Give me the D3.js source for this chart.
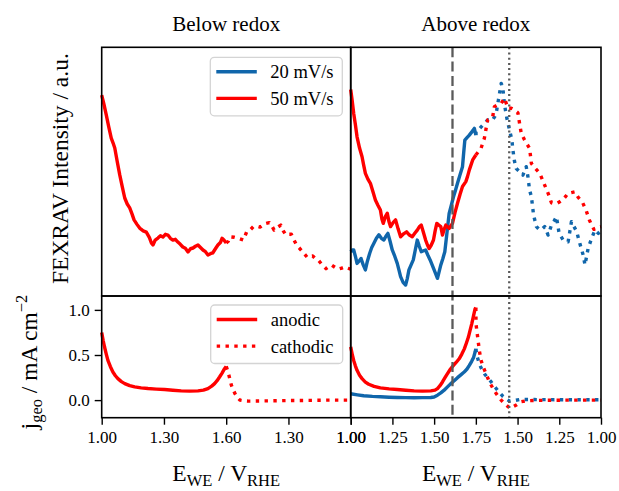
<!DOCTYPE html>
<html>
<head>
<meta charset="utf-8">
<script src="https://cdn.jsdelivr.net/npm/d3@7"></script>
<style>
  body { margin: 0; background: #fff; }
  svg text { font-family: "Liberation Serif", "Times New Roman", serif; fill: #000; }
</style>
</head>
<body>
<div id="chart"></div>
<script>
// ---- data (potential E in V vs RHE, value) ----
const panelTitles = ["Below redox", "Above redox"];
const sweepLabels = ["20 mV/s", "50 mV/s"];
const directionLabels = ["anodic", "cathodic"];
const turnPotentials = [1.60, 1.75];
const redoxAnodicE = 1.61;   // dashed marker, forward sweep
const redoxCathodicE = 1.55; // dotted marker, backward sweep
const currentTicks = [0.0, 0.5, 1.0];

// FEXRAV intensity (a.u.), below redox, 50 mV/s
const belowFex50Anodic = [[1.000,0.808],[1.011,0.770],[1.022,0.728],[1.034,0.680],[1.046,0.635],[1.055,0.615],[1.063,0.595],[1.075,0.540],[1.087,0.487],[1.099,0.440],[1.111,0.394],[1.123,0.370],[1.135,0.354],[1.146,0.330],[1.156,0.306],[1.170,0.288],[1.183,0.273],[1.200,0.262],[1.215,0.257],[1.230,0.235],[1.240,0.212],[1.247,0.205],[1.258,0.225],[1.271,0.233],[1.283,0.242],[1.295,0.237],[1.307,0.248],[1.319,0.245],[1.331,0.232],[1.343,0.225],[1.355,0.228],[1.367,0.217],[1.379,0.208],[1.391,0.197],[1.403,0.192],[1.416,0.177],[1.428,0.190],[1.440,0.193],[1.452,0.200],[1.464,0.205],[1.476,0.195],[1.488,0.185],[1.500,0.178],[1.512,0.165],[1.524,0.170],[1.535,0.173],[1.548,0.190],[1.560,0.205],[1.572,0.215],[1.580,0.232],[1.589,0.225],[1.600,0.213]];
const belowFex50Cathodic = [[1.600,0.213],[1.590,0.220],[1.581,0.238],[1.560,0.236],[1.541,0.232],[1.517,0.225],[1.501,0.259],[1.485,0.265],[1.469,0.279],[1.450,0.280],[1.437,0.277],[1.415,0.290],[1.392,0.295],[1.380,0.282],[1.369,0.265],[1.355,0.275],[1.337,0.285],[1.325,0.262],[1.312,0.245],[1.300,0.248],[1.286,0.248],[1.275,0.228],[1.263,0.209],[1.250,0.195],[1.236,0.182],[1.222,0.168],[1.209,0.155],[1.195,0.160],[1.183,0.161],[1.170,0.150],[1.154,0.142],[1.137,0.125],[1.119,0.110],[1.105,0.118],[1.091,0.124],[1.075,0.115],[1.060,0.108],[1.043,0.112],[1.027,0.117],[1.015,0.112],[1.000,0.108]];

// FEXRAV intensity (a.u.), above redox
const aboveFex20Anodic = [[1.000,0.178],[1.010,0.185],[1.018,0.185],[1.028,0.160],[1.038,0.131],[1.050,0.140],[1.062,0.151],[1.075,0.125],[1.088,0.105],[1.100,0.140],[1.114,0.172],[1.126,0.195],[1.139,0.212],[1.154,0.232],[1.169,0.246],[1.184,0.232],[1.199,0.225],[1.211,0.240],[1.223,0.252],[1.236,0.220],[1.249,0.185],[1.264,0.160],[1.279,0.131],[1.289,0.105],[1.299,0.078],[1.314,0.055],[1.329,0.044],[1.339,0.070],[1.349,0.105],[1.362,0.125],[1.375,0.145],[1.387,0.185],[1.399,0.225],[1.411,0.200],[1.423,0.178],[1.436,0.182],[1.449,0.185],[1.462,0.165],[1.476,0.145],[1.488,0.125],[1.500,0.105],[1.510,0.088],[1.520,0.071],[1.530,0.098],[1.540,0.125],[1.552,0.150],[1.564,0.178],[1.577,0.255],[1.590,0.332],[1.603,0.365],[1.616,0.399],[1.628,0.425],[1.640,0.453],[1.655,0.487],[1.670,0.520],[1.677,0.575],[1.684,0.627],[1.697,0.637],[1.711,0.647],[1.726,0.660],[1.741,0.674],[1.750,0.647]];
const aboveFex20Cathodic = [[1.750,0.647],[1.749,0.661],[1.729,0.672],[1.709,0.687],[1.694,0.698],[1.679,0.708],[1.664,0.705],[1.649,0.708],[1.638,0.720],[1.628,0.735],[1.618,0.775],[1.608,0.815],[1.598,0.855],[1.589,0.841],[1.578,0.768],[1.564,0.714],[1.548,0.667],[1.534,0.627],[1.528,0.587],[1.518,0.540],[1.508,0.513],[1.488,0.500],[1.468,0.486],[1.448,0.520],[1.438,0.480],[1.428,0.426],[1.417,0.399],[1.404,0.325],[1.387,0.279],[1.367,0.265],[1.352,0.270],[1.337,0.279],[1.317,0.245],[1.297,0.285],[1.282,0.300],[1.267,0.319],[1.251,0.252],[1.227,0.225],[1.197,0.218],[1.177,0.299],[1.146,0.259],[1.127,0.212],[1.107,0.165],[1.096,0.125],[1.077,0.192],[1.056,0.232],[1.036,0.265],[1.016,0.252],[1.000,0.265]];
const aboveFex50Anodic = [[1.000,0.830],[1.008,0.790],[1.018,0.734],[1.028,0.690],[1.038,0.640],[1.053,0.595],[1.068,0.560],[1.078,0.525],[1.088,0.493],[1.103,0.470],[1.118,0.453],[1.133,0.420],[1.148,0.386],[1.163,0.365],[1.178,0.346],[1.187,0.310],[1.195,0.292],[1.207,0.318],[1.219,0.333],[1.229,0.300],[1.239,0.279],[1.254,0.295],[1.269,0.306],[1.284,0.270],[1.299,0.238],[1.317,0.250],[1.335,0.258],[1.352,0.245],[1.369,0.238],[1.384,0.252],[1.399,0.265],[1.411,0.278],[1.423,0.285],[1.436,0.255],[1.449,0.225],[1.460,0.205],[1.470,0.191],[1.483,0.205],[1.496,0.225],[1.506,0.262],[1.516,0.292],[1.528,0.285],[1.540,0.279],[1.550,0.245],[1.560,0.268],[1.570,0.285],[1.580,0.278],[1.590,0.272],[1.600,0.282],[1.610,0.292],[1.625,0.335],[1.640,0.373],[1.655,0.408],[1.670,0.440],[1.690,0.460],[1.700,0.480],[1.711,0.507],[1.731,0.547],[1.750,0.567]];
const aboveFex50Cathodic = [[1.750,0.567],[1.735,0.580],[1.719,0.594],[1.699,0.634],[1.689,0.672],[1.679,0.708],[1.660,0.715],[1.649,0.721],[1.639,0.761],[1.620,0.768],[1.598,0.775],[1.578,0.795],[1.568,0.775],[1.558,0.755],[1.538,0.755],[1.518,0.748],[1.498,0.737],[1.488,0.694],[1.478,0.654],[1.458,0.627],[1.443,0.610],[1.428,0.594],[1.417,0.533],[1.392,0.512],[1.367,0.493],[1.342,0.453],[1.317,0.413],[1.297,0.375],[1.280,0.372],[1.263,0.373],[1.245,0.380],[1.227,0.389],[1.212,0.400],[1.197,0.413],[1.177,0.416],[1.157,0.419],[1.137,0.397],[1.110,0.375],[1.090,0.346],[1.070,0.306],[1.056,0.285],[1.042,0.268],[1.029,0.272],[1.016,0.276],[1.000,0.279]];

// current density j_geo (mA cm^-2)
const belowJ50Anodic = [[1.000,0.75],[1.007,0.66],[1.014,0.586],[1.022,0.51],[1.030,0.44],[1.042,0.37],[1.054,0.311],[1.066,0.27],[1.078,0.238],[1.095,0.205],[1.111,0.183],[1.135,0.160],[1.159,0.146],[1.190,0.136],[1.223,0.128],[1.263,0.122],[1.303,0.117],[1.343,0.110],[1.383,0.102],[1.424,0.100],[1.464,0.102],[1.490,0.110],[1.512,0.128],[1.530,0.155],[1.544,0.183],[1.556,0.215],[1.568,0.256],[1.580,0.300],[1.592,0.348],[1.600,0.374]];
const belowJ50Cathodic = [[1.600,0.374],[1.591,0.311],[1.583,0.240],[1.575,0.165],[1.566,0.115],[1.558,0.073],[1.546,0.030],[1.534,0.000],[1.514,-0.008],[1.494,-0.011],[1.450,-0.010],[1.400,-0.008],[1.300,-0.005],[1.200,-0.003],[1.100,0.000],[1.000,0.000]];
const aboveJ20Anodic = [[1.000,0.070],[1.040,0.058],[1.078,0.048],[1.130,0.041],[1.178,0.037],[1.230,0.032],[1.279,0.029],[1.330,0.027],[1.380,0.026],[1.430,0.027],[1.480,0.029],[1.500,0.035],[1.520,0.055],[1.540,0.080],[1.560,0.110],[1.580,0.147],[1.600,0.183],[1.620,0.215],[1.640,0.249],[1.660,0.280],[1.680,0.311],[1.697,0.345],[1.711,0.385],[1.725,0.430],[1.737,0.476],[1.745,0.530],[1.750,0.568]];
const aboveJ20Cathodic = [[1.750,0.568],[1.744,0.495],[1.729,0.400],[1.714,0.340],[1.699,0.293],[1.679,0.245],[1.658,0.201],[1.643,0.165],[1.628,0.128],[1.609,0.085],[1.589,0.044],[1.568,0.012],[1.548,-0.011],[1.520,-0.005],[1.488,0.007],[1.400,0.006],[1.300,0.005],[1.200,0.004],[1.000,0.004]];
const aboveJ50Anodic = [[1.000,0.590],[1.010,0.50],[1.018,0.44],[1.028,0.38],[1.038,0.33],[1.053,0.275],[1.068,0.238],[1.088,0.200],[1.108,0.176],[1.140,0.152],[1.178,0.135],[1.230,0.124],[1.279,0.117],[1.330,0.110],[1.380,0.102],[1.430,0.100],[1.480,0.102],[1.505,0.110],[1.520,0.128],[1.535,0.160],[1.550,0.201],[1.565,0.248],[1.580,0.293],[1.598,0.345],[1.616,0.385],[1.633,0.420],[1.650,0.458],[1.666,0.510],[1.681,0.568],[1.693,0.630],[1.705,0.696],[1.715,0.770],[1.725,0.843],[1.735,0.925],[1.745,1.008],[1.750,1.025]];
const aboveJ50Cathodic = [[1.750,1.025],[1.749,0.843],[1.739,0.696],[1.729,0.549],[1.719,0.440],[1.704,0.360],[1.689,0.293],[1.674,0.225],[1.658,0.165],[1.643,0.115],[1.628,0.073],[1.613,0.035],[1.598,0.000],[1.583,-0.030],[1.568,-0.055],[1.555,-0.075],[1.542,-0.091],[1.525,-0.072],[1.508,-0.055],[1.478,-0.018],[1.450,-0.008],[1.400,-0.004],[1.300,-0.002],[1.200,0.000],[1.000,0.000]];

// ---- layout ----
const width = 619, height = 491;
const blue = "#1066ab", red = "#ff0000";
const lw = 3.4, dots = "3.4,5.4";

const cols = [
  { x0: 101.7, x1: 350.7, emax: turnPotentials[0], step: 0.3 },
  { x0: 350.7, x1: 601, emax: turnPotentials[1], step: 0.25 }
];
const topRow = [47.3, 296], botRow = [296, 417.7];

const svg = d3.select("#chart").append("svg")
  .attr("width", width)
  .attr("height", height);

// position along the sweep: forward then back
function sweepPos(E, dir, emax) {
  return dir === "anodic" ? E - 1 : (emax - 1) + (emax - E);
}
function posToE(p, emax) {
  return p <= emax - 1 + 1e-9 ? 1 + p : emax - (p - (emax - 1));
}

const yFex = d3.scaleLinear().domain([0, 1]).range([topRow[1], topRow[0]]);
const yJ = d3.scaleLinear().domain([-0.195, 1.154]).range([botRow[1], botRow[0]]);

const xScales = cols.map(c => d3.scaleLinear()
  .domain([0, 2 * (c.emax - 1)])
  .range([c.x0, c.x1]));

function drawTrace(x, y, emax, pts, dir, color) {
  const line = d3.line()
    .x(d => x(sweepPos(d[0], dir, emax)))
    .y(d => y(d[1]));
  svg.append("path")
    .datum(pts)
    .attr("d", line)
    .attr("fill", "none")
    .attr("stroke", color)
    .attr("stroke-width", lw)
    .attr("stroke-linejoin", "round")
    .attr("stroke-dasharray", dir === "cathodic" ? dots : null);
}

// traces
const xl = xScales[0], xr = xScales[1];
drawTrace(xl, yFex, cols[0].emax, belowFex50Anodic, "anodic", red);
drawTrace(xl, yFex, cols[0].emax, belowFex50Cathodic, "cathodic", red);
drawTrace(xr, yFex, cols[1].emax, aboveFex20Anodic, "anodic", blue);
drawTrace(xr, yFex, cols[1].emax, aboveFex20Cathodic, "cathodic", blue);
drawTrace(xr, yFex, cols[1].emax, aboveFex50Anodic, "anodic", red);
drawTrace(xr, yFex, cols[1].emax, aboveFex50Cathodic, "cathodic", red);

drawTrace(xl, yJ, cols[0].emax, belowJ50Anodic, "anodic", red);
drawTrace(xl, yJ, cols[0].emax, belowJ50Cathodic, "cathodic", red);
drawTrace(xr, yJ, cols[1].emax, aboveJ20Anodic, "anodic", blue);
drawTrace(xr, yJ, cols[1].emax, aboveJ20Cathodic, "cathodic", blue);
drawTrace(xr, yJ, cols[1].emax, aboveJ50Anodic, "anodic", red);
drawTrace(xr, yJ, cols[1].emax, aboveJ50Cathodic, "cathodic", red);

// redox marker lines on the right panels
[[redoxAnodicE, "anodic", "10,4.3", 2.3], [redoxCathodicE, "cathodic", "2,3.2", 2.3]].forEach(m => {
  const xv = xr(sweepPos(m[0], m[1], cols[1].emax));
  svg.append("line")
    .attr("x1", xv).attr("x2", xv)
    .attr("y1", topRow[0]).attr("y2", botRow[1])
    .attr("stroke", "#5a5a5a")
    .attr("stroke-width", m[3])
    .attr("stroke-dasharray", m[2]);
});

// frames
cols.forEach(c => {
  [topRow, botRow].forEach(r => {
    svg.append("rect")
      .attr("x", c.x0).attr("y", r[0])
      .attr("width", c.x1 - c.x0).attr("height", r[1] - r[0])
      .attr("fill", "none")
      .attr("stroke", "#000")
      .attr("stroke-width", 1.6);
  });
});

// x axes
cols.forEach((c, i) => {
  const ticks = d3.range(0, 2 * (c.emax - 1) + 1e-6, c.step);
  const ax = svg.append("g")
    .attr("transform", `translate(0,${botRow[1]})`)
    .call(d3.axisBottom(xScales[i])
      .tickValues(ticks)
      .tickSize(7)
      .tickPadding(6)
      .tickFormat(p => posToE(p, c.emax).toFixed(2)));
  ax.select(".domain").remove();
  ax.selectAll(".tick line").attr("stroke", "#000").attr("stroke-width", 1.4);
  ax.selectAll(".tick text").style("font-size", "17px")
    .style("font-family", "'Liberation Serif', serif");

  // x label
  const xlab = svg.append("text")
    .attr("x", (c.x0 + c.x1) / 2)
    .attr("y", 481)
    .attr("text-anchor", "middle")
    .style("font-size", "23.5px");
  xlab.append("tspan").text("E");
  xlab.append("tspan").attr("dy", 5).style("font-size", "16.5px").text("WE");
  xlab.append("tspan").attr("dy", -5).text(" / V");
  xlab.append("tspan").attr("dy", 5).style("font-size", "16.5px").text("RHE");

  // titles
  svg.append("text")
    .attr("x", (c.x0 + c.x1) / 2)
    .attr("y", 31)
    .attr("text-anchor", "middle")
    .style("font-size", "21px")
    .text(panelTitles[i]);
});

// y axis of current panel
const ay = svg.append("g")
  .attr("transform", `translate(${cols[0].x0},0)`)
  .call(d3.axisLeft(yJ).tickValues(currentTicks).tickSize(7).tickPadding(5)
    .tickFormat(d3.format(".1f")));
ay.select(".domain").remove();
ay.selectAll(".tick line").attr("stroke", "#000").attr("stroke-width", 1.4);
ay.selectAll(".tick text").style("font-size", "17px")
  .style("font-family", "'Liberation Serif', serif");

// y labels
svg.append("text")
  .attr("transform", `translate(68,${(topRow[0] + topRow[1]) / 2 - 3}) rotate(-90)`)
  .attr("text-anchor", "middle")
  .style("font-size", "23.5px")
  .text("FEXRAV Intensity / a.u.");

const jl = svg.append("text")
  .attr("transform", `translate(37,362) rotate(-90)`)
  .attr("text-anchor", "middle")
  .style("font-size", "23.5px");
jl.append("tspan").text("j");
jl.append("tspan").attr("dy", 5).style("font-size", "16.5px").text("geo");
jl.append("tspan").attr("dy", -5).text(" / mA cm");
jl.append("tspan").attr("dy", -10).style("font-size", "16.5px").text("\u22122");

// legends
function legend(x, y, items) {
  const g = svg.append("g").attr("transform", `translate(${x},${y})`);
  g.append("rect")
    .attr("width", 132).attr("height", items.length * 27 + 4.5)
    .attr("rx", 4)
    .attr("fill", "#fff").attr("fill-opacity", 0.85)
    .attr("stroke", "#d4d4d4").attr("stroke-width", 1.3);
  items.forEach((it, k) => {
    const cy = 14.5 + k * 26.6;
    g.append("line")
      .attr("x1", 6).attr("x2", 46.5)
      .attr("y1", cy).attr("y2", cy)
      .attr("stroke", it.color).attr("stroke-width", lw)
      .attr("stroke-dasharray", it.dash);
    g.append("text")
      .attr("x", 60).attr("y", cy + 6.5)
      .style("font-size", "18.5px")
      .text(it.label);
  });
}
legend(210.3, 57.3, [
  { label: sweepLabels[0], color: blue, dash: null },
  { label: sweepLabels[1], color: red, dash: null }
]);
legend(210.7, 305, [
  { label: directionLabels[0], color: red, dash: null },
  { label: directionLabels[1], color: red, dash: dots }
]);
</script>
</body>
</html>
